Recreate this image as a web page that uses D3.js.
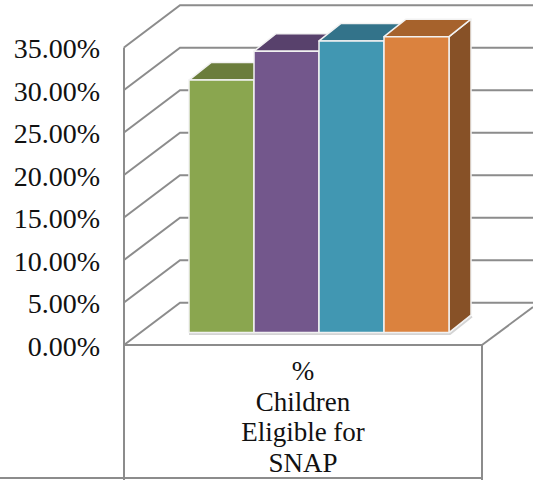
<!DOCTYPE html>
<html>
<head>
<meta charset="utf-8">
<script src="https://cdnjs.cloudflare.com/ajax/libs/d3/7.8.5/d3.min.js"></script>
<style>
html, body { margin: 0; padding: 0; background: #fff; }
svg { display: block; }
text { font-family: "Liberation Serif", serif; fill: #111; }
</style>
</head>
<body>
<div id="chart"></div>
<script>
var categoryLines = ["%", "Children", "Eligible for", "SNAP"];
var seriesValues = [29.7, 33.1, 34.3, 34.8];
var seriesFront = ["#8aa64f", "#73578c", "#4197b2", "#db823e"];
var seriesTop = ["#6b7d3c", "#58416c", "#33738a", "#a6622c"];
var seriesSide = ["#6b7d3c", "#58416c", "#33738a", "#875127"];
var tickValues = [0, 5, 10, 15, 20, 25, 30, 35];

var WIDTH = 533, HEIGHT = 480;
var DEPTH_X = 56, DEPTH_Y = -42.3;
var BAR_DX = 22, BAR_DY = -17.5;
var GRID = "#8c8c8c", EDGE = "#f2f2f2";

var svg = d3.select("#chart").append("svg")
  .attr("width", WIDTH)
  .attr("height", HEIGHT);

var y = d3.scaleLinear().domain([0, 35]).range([345, 47.5]);
var x = d3.scaleBand().domain(d3.range(seriesValues.length)).range([189, 449]);

function line(x1, y1, x2, y2) {
  svg.append("line")
    .attr("x1", x1).attr("y1", y1)
    .attr("x2", x2).attr("y2", y2)
    .attr("stroke", GRID)
    .attr("stroke-width", 2);
}

//////////////////////////////////
// walls and gridlines
tickValues.forEach(function(t) {
  svg.append("path")
    .attr("d", "M 124 " + y(t) + " L " + (124 + DEPTH_X) + " " + (y(t) + DEPTH_Y) + " H " + WIDTH)
    .attr("fill", "none")
    .attr("stroke", GRID)
    .attr("stroke-width", 2);
});

// floor and category box
line(124, y(35), 124, 480);
line(124, 345, 482, 345);
line(482, 345, 533, 307);
line(482, 345, 482, 480);
line(0, 478, 482, 478);

//////////////////////////////////
// bars, the base sits inside the floor so shift the value scale
var baseShift = 12.5;

// soft shadow under the bars
svg.append("path")
  .attr("fill", "none")
  .attr("stroke", "#d4d4d4")
  .attr("stroke-width", 2)
  .attr("d", "M " + x(0) + " " + (y(0) - baseShift + 1.5) + " H " + (x(3) + x.bandwidth() + 1) +
    " l " + BAR_DX + " " + BAR_DY);

seriesValues.forEach(function(v, i) {
  var x0 = x(i), w = x.bandwidth();
  var top = y(v) - baseShift, bottom = y(0) - baseShift;
  var g = svg.append("g")
    .attr("stroke", EDGE)
    .attr("stroke-width", 1.5)
    .attr("stroke-linejoin", "round");

  g.append("path")
    .attr("fill", seriesSide[i])
    .attr("d", "M " + (x0 + w) + " " + top + " l " + BAR_DX + " " + BAR_DY +
      " V " + (bottom + BAR_DY) + " L " + (x0 + w) + " " + bottom + " z");
  g.append("path")
    .attr("fill", seriesTop[i])
    .attr("d", "M " + x0 + " " + top + " l " + BAR_DX + " " + BAR_DY +
      " h " + w + " L " + (x0 + w) + " " + top + " z");
  g.append("rect")
    .attr("fill", seriesFront[i])
    .attr("x", x0)
    .attr("y", top)
    .attr("width", w)
    .attr("height", bottom - top);
});

//////////////////////////////////
// labels
svg.append("g").selectAll("text")
  .data(tickValues)
  .enter()
  .append("text")
  .attr("x", 100)
  .attr("y", function(t) { return y(t) + 10.5; })
  .attr("text-anchor", "end")
  .attr("font-size", 28)
  .text(function(t) { return t.toFixed(2) + "%"; });

svg.append("g").selectAll("text")
  .data(categoryLines)
  .enter()
  .append("text")
  .attr("x", 303)
  .attr("y", function(d, i) { return 380 + i * 30.5; })
  .attr("text-anchor", "middle")
  .attr("font-size", 27)
  .text(function(d) { return d; });
</script>
</body>
</html>
